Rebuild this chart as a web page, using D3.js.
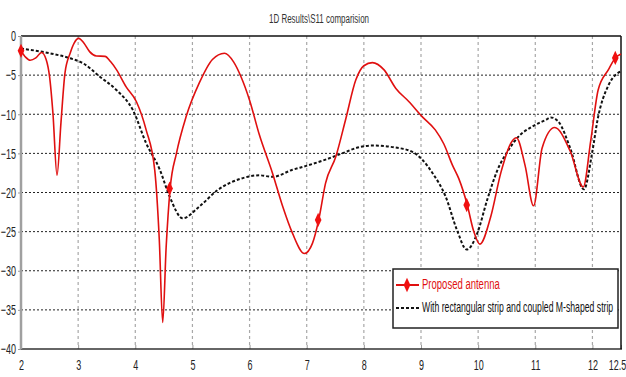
<!DOCTYPE html>
<html>
<head>
<meta charset="utf-8">
<script src="https://cdn.jsdelivr.net/npm/d3@7"></script>
<style>
  body { margin: 0; background: #fff; }
  svg { display: block; }
  text { font-family: "Liberation Sans", Arial, sans-serif; fill: #222; }
</style>
</head>
<body>
<svg id="chart" width="626" height="377"></svg>
<script>
// frequency (GHz) and S11 (dB)
const freqProposed = [2.00, 2.08, 2.16, 2.26, 2.36, 2.44, 2.50, 2.56, 2.63, 2.70, 2.77, 2.86, 2.93, 3.01, 3.10, 3.20,
  3.32, 3.47, 3.57, 3.67, 3.84, 4.02, 4.19, 4.34, 4.42, 4.48, 4.54, 4.61, 4.72, 4.89, 5.12, 5.35, 5.56, 5.72, 5.85,
  6.00, 6.17, 6.40, 6.58, 6.75, 6.96, 7.10, 7.21, 7.33, 7.51, 7.68, 7.86, 8.00, 8.15, 8.35, 8.56, 8.79, 9.02, 9.25,
  9.40, 9.55, 9.66, 9.81, 9.92, 10.03, 10.22, 10.40, 10.58, 10.67, 10.82, 10.97, 11.12, 11.34, 11.61, 11.84, 11.97,
  12.10, 12.28, 12.40, 12.50];
const s11Proposed = [-1.9, -2.7, -3.1, -2.8, -2.1, -3.0, -5.2, -10.0, -17.8, -11.0, -4.7, -2.2, -0.9, -0.3, -0.9, -2.0,
  -2.55, -2.6, -3.3, -4.3, -6.5, -8.4, -12.0, -17.1, -26.0, -36.6, -27.0, -19.5, -15.0, -10.3, -6.0, -3.0, -2.2, -3.3, -5.2,
  -8.2, -12.6, -17.5, -21.8, -25.2, -27.8, -26.5, -23.5, -18.8, -15.4, -10.7, -5.6, -3.8, -3.4, -4.3, -6.7, -8.4, -10.3, -12.0,
  -13.8, -16.5, -18.2, -21.6, -24.9, -26.6, -23.1, -17.4, -13.6, -13.0, -16.5, -21.7, -14.3, -11.7, -14.7, -19.3, -13.4,
  -6.9, -4.3, -2.8, -2.3];

const markerFreq = [2.0, 4.6, 7.2, 9.8, 12.4];
const markerS11 = [-1.9, -19.5, -23.5, -21.6, -2.8];

const freqStrip = [2.00, 2.50, 2.86, 3.09, 3.38, 3.67, 3.96, 4.19, 4.43, 4.60, 4.83, 5.12, 5.44, 5.91, 6.17, 6.40,
  6.75, 6.99, 7.33, 7.62, 7.92, 8.15, 8.50, 8.85, 9.02, 9.20, 9.43, 9.63, 9.80, 9.98, 10.16, 10.34, 10.52, 10.70,
  10.94, 11.19, 11.27, 11.40, 11.61, 11.85, 12.00, 12.09, 12.28, 12.50];
const s11Strip = [-1.6, -2.2, -2.85, -3.5, -5.2, -6.9, -9.5, -13.7, -17.1, -20.5, -23.3, -21.8, -19.7, -18.1, -17.8, -18.0,
  -17.1, -16.6, -15.8, -15.0, -14.2, -14.0, -14.2, -14.8, -15.8, -17.5, -20.5, -24.8, -27.3, -25.3, -20.9, -17.1, -14.7, -12.9,
  -11.6, -10.7, -10.4, -10.9, -14.3, -19.6, -14.7, -10.7, -6.3, -4.5];

const xTicks = [2, 3, 4, 5, 6, 7, 8, 9, 10, 11, 12, 12.5];
const yTicks = [0, -5, -10, -15, -20, -25, -30, -35, -40];
const seriesNames = ['Proposed antenna', 'With rectangular strip and coupled M-shaped strip'];
const chartTitle = '1D Results\\S11 comparision';

const svg = d3.select('#chart');
const plotLeft = 21, plotRight = 621, plotTop = 36, plotBottom = 349;
const squeeze = 0.6; // tick labels in the picture are tall and narrow

const x = d3.scaleLinear().domain([2, 12.5]).range([plotLeft, plotRight]);
const y = d3.scaleLinear().domain([-40, 0]).range([plotBottom, plotTop]);

// title
svg.append('text')
  .attr('x', 319).attr('y', 23)
  .attr('text-anchor', 'middle')
  .attr('font-size', 12)
  .attr('textLength', 100).attr('lengthAdjust', 'spacingAndGlyphs')
  .style('fill', '#333')
  .text(chartTitle);

// grid
svg.append('g')
  .selectAll('line')
  .data(xTicks.filter(d => d > 2 && d < 12.5))
  .enter().append('line')
  .attr('x1', d => x(d)).attr('x2', d => x(d))
  .attr('y1', plotTop).attr('y2', plotBottom)
  .attr('stroke', '#a8a8a8')
  .attr('stroke-width', 1.2)
  .attr('stroke-dasharray', '3,3');

svg.append('g')
  .selectAll('line')
  .data(yTicks.filter(d => d < 0 && d > -40))
  .enter().append('line')
  .attr('x1', plotLeft).attr('x2', plotRight)
  .attr('y1', d => y(d)).attr('y2', d => y(d))
  .attr('stroke', '#222')
  .attr('stroke-width', 1)
  .attr('stroke-dasharray', '2,2');

// axes
const xAxis = svg.append('g')
  .attr('transform', `translate(0,${plotBottom})`)
  .call(d3.axisBottom(x).tickValues(xTicks).tickFormat(d3.format('')).tickSize(4).tickSizeOuter(0));
xAxis.select('.domain').remove();
xAxis.selectAll('.tick line').attr('stroke', '#999').attr('y1', -4).attr('y2', 0);
xAxis.selectAll('.tick text')
  .attr('y', 10)
  .attr('x', d => d === 12.5 ? -4 / squeeze : 0)
  .attr('font-size', 15)
  .attr('transform', `scale(${squeeze},1)`)
  .style('fill', '#222');

const yAxis = svg.append('g')
  .attr('transform', `translate(${plotLeft},0)`)
  .call(d3.axisLeft(y).tickValues(yTicks).tickSize(3).tickSizeOuter(0));
yAxis.select('.domain').remove();
yAxis.selectAll('.tick line').attr('stroke', '#999');
yAxis.selectAll('.tick text')
  .attr('x', -5 / squeeze)
  .attr('font-size', 15)
  .attr('transform', `scale(${squeeze},1)`)
  .style('fill', '#222');

// frame
svg.append('line').attr('x1', plotLeft).attr('x2', plotRight).attr('y1', plotTop).attr('y2', plotTop)
  .attr('stroke', '#111').attr('stroke-width', 1.5);
svg.append('line').attr('x1', plotLeft).attr('x2', plotRight + 1).attr('y1', plotBottom).attr('y2', plotBottom)
  .attr('stroke', '#333').attr('stroke-width', 1.5);
svg.append('line').attr('x1', plotRight).attr('x2', plotRight).attr('y1', plotTop).attr('y2', plotBottom)
  .attr('stroke', '#111').attr('stroke-width', 1.5);
svg.append('line').attr('x1', plotLeft).attr('x2', plotLeft).attr('y1', plotTop).attr('y2', plotBottom)
  .attr('stroke', '#a0a0a0').attr('stroke-width', 2.5);

// curves
const line = d3.line()
  .x(d => x(d[0]))
  .y(d => y(d[1]))
  .curve(d3.curveMonotoneX);

const stripData = freqStrip.map((f, i) => [f, s11Strip[i]]);
const proposedData = freqProposed.map((f, i) => [f, s11Proposed[i]]);
const markerData = markerFreq.map((f, i) => [f, markerS11[i]]);

svg.append('path')
  .datum(stripData)
  .attr('d', line)
  .attr('fill', 'none')
  .attr('stroke', '#111')
  .attr('stroke-width', 2)
  .attr('stroke-dasharray', '3,2');

svg.append('path')
  .datum(proposedData)
  .attr('d', line)
  .attr('fill', 'none')
  .attr('stroke', '#e01010')
  .attr('stroke-width', 1.6);

const diamond = d3.symbol().type(d3.symbolDiamond).size(60);
svg.append('g')
  .selectAll('path')
  .data(markerData)
  .enter().append('path')
  .attr('d', diamond)
  .attr('transform', d => `translate(${x(d[0])},${y(d[1])}) scale(0.8,1)`)
  .attr('fill', '#f01010');

// legend
const legend = svg.append('g').attr('transform', 'translate(393,269)');
legend.append('rect')
  .attr('width', 225).attr('height', 59)
  .attr('fill', '#fff')
  .attr('stroke', '#222')
  .attr('stroke-width', 1.5);

legend.append('line')
  .attr('x1', 3).attr('x2', 26).attr('y1', 16).attr('y2', 16)
  .attr('stroke', '#e01010').attr('stroke-width', 2);
legend.append('path')
  .attr('d', diamond)
  .attr('transform', 'translate(14,16) scale(0.8,1)')
  .attr('fill', '#f01010');
legend.append('text')
  .attr('x', 29).attr('y', 20)
  .attr('font-size', 14)
  .attr('transform', 'translate(29,0) scale(0.68,1) translate(-29,0)')
  .style('fill', '#e01010')
  .text(seriesNames[0]);

legend.append('line')
  .attr('x1', 3).attr('x2', 26).attr('y1', 39).attr('y2', 39)
  .attr('stroke', '#111').attr('stroke-width', 2)
  .attr('stroke-dasharray', '3,2');
legend.append('text')
  .attr('x', 29).attr('y', 43)
  .attr('font-size', 14)
  .attr('transform', 'translate(29,0) scale(0.62,1) translate(-29,0)')
  .style('fill', '#111')
  .text(seriesNames[1]);
</script>
</body>
</html>
